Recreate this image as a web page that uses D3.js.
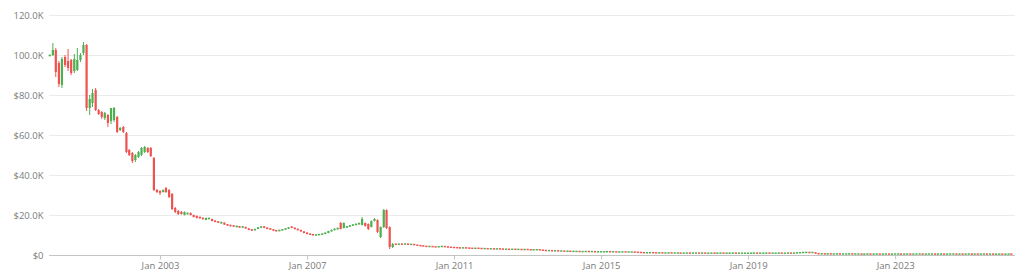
<!DOCTYPE html>
<html>
<head>
<meta charset="utf-8">
<script src="https://cdn.jsdelivr.net/npm/d3@7"></script>
<style>
  html, body { margin: 0; padding: 0; background: #ffffff; }
  svg { display: block; }
  text { font-family: "Open Sans", "Noto Sans", sans-serif; }
</style>
</head>
<body>
<svg id="chart" width="1024" height="279"></svg>
<script>
// ---- DATA (values in thousands of dollars), monthly candles starting Jan 2000 ----
const startYear = 2000;

// [open, high, low, close]  Jan 2000 – Dec 2002
const ohlc2000_2002 = [
  [99.6,100.2,99.4,99.9],[100,106,99.5,102.5],[102.5,103.5,89,91.5],[96,97,84,85.5],
  [85,99,83.5,98],[99,100,94,95],[97,103,92,93.5],[97.5,98,90,91],
  [92,100.5,91,98],[92.5,103.5,92,97.5],[97.5,101,96.5,100],[101,106.5,100,105],
  [105,105.5,72,73.5],[73.5,80,70,78],[76,83,74,81],[82.5,83.5,72,72.5],
  [72.5,73,70,70.5],[71.5,72,68,69],[68.5,71.5,67.5,71],[70,70.5,64,66],
  [67,73.5,65.5,73.5],[67.5,74,66.5,73.5],[69,69.5,61,61.5],[62.5,64,62,63.5],
  [64,64.5,61,61.5],[61,61.5,51,51.5],[52.5,53,49.5,50],[51,51.5,46,47],
  [47.5,50.5,46.5,50],[49,52,48.5,51.5],[50,54,49.5,53.5],[51.5,54.5,51,54],
  [53.5,54,51,51.5],[53.5,54,49,49.5],[48.5,49,32,32.5],[32.5,33,31,31.5]
];

// [open, high, low, close]  Jan 2003 – Dec 2006
const ohlc2003_2006 = [
  [32,32.5,30,31],[31.5,32.8,31.2,32.5],[33.5,34,31,31.5],[32.5,33,28.5,29],
  [30.5,31,22.5,23],[23.5,24,21,21.5],[22,22.5,20,20.5],[21.5,22,20.2,20.5],
  [20,21.8,19.8,21.5],[20.5,21.2,20.2,21],[21,21.3,19.8,20],[20,20.2,18.8,19],
  [19.5,19.8,18.3,18.5],[19,19.2,18.2,18.5],[18.5,18.8,17.8,18],[17.5,18.7,17.4,18.5],
  [18,18.7,17.9,18.5],[18,18.2,16.8,17],[17.2,17.4,16.5,16.6],[16.8,17,16,16.2],
  [15.8,16.7,15.7,16.5],[16.2,16.3,15,15.2],[15.3,15.5,14.6,14.8],[15,15.1,14.3,14.5],
  [14.8,15,14.1,14.3],[14,14.7,13.9,14.5],[14.3,14.5,13.6,13.8],[13.8,14.4,13.7,14.2],
  [14,14.2,13.1,13.3],[13.2,13.4,12.4,12.6],[12.8,13,12.1,12.3],[12.4,13.1,12.3,13],
  [13,13.9,12.9,13.8],[13.6,14.4,13.5,14.3],[14.3,14.5,13.4,13.6],[13.6,13.8,12.9,13.1],
  [13.2,13.4,12.6,12.8],[12.8,13,12,12.2],[12.3,12.5,11.8,12],[12,12.6,11.9,12.5],
  [12.4,12.9,12.3,12.8],[12.8,13.3,12.7,13.2],[13.2,14,13.1,13.8],[14.2,14.4,13.4,13.6],
  [13.6,13.8,12.8,13],[13,13.2,12.3,12.5],[12.5,12.7,11.6,11.8],[11.8,12,10.8,11]
];

// [open, high, low, close]  Jan 2007 – May 2009
const ohlc2007_2009 = [
  [11.2,11.4,10.3,10.5],[10.6,10.8,10,10.2],[10.3,10.5,9.8,10],[9.9,10.3,9.8,10.2],
  [10,10.5,9.9,10.4],[10.3,10.7,10.2,10.6],[10.5,11.3,10.4,11.2],[11,12.1,10.9,12],
  [11.8,12.7,11.7,12.6],[12.4,13.3,12.3,13.2],[12.8,13.7,12.7,13.6],[16,16.5,12.8,13],
  [13.5,16.3,13.3,16],[13.8,14.4,13.6,14.3],[14.2,14.9,14,14.8],[14.7,15.3,14.5,15.2],
  [15,15.7,14.8,15.6],[15.3,16.2,15.2,16],[15,19,14.8,18],[16,16.3,14.2,14.5],
  [15.5,15.8,12.5,13],[14,17.3,13.8,17],[17,18.5,16.8,18],[17.5,17.8,11,11.5],
  [9,14.3,8.5,14],[14,23,13.5,22.5],[22.5,22.8,13,13.5],[14,14.3,3,4],[4,6,3.5,5.5]
];

// monthly closes Jun 2009 – Mar 2026 (each month opens at the previous close)
const closes2009_2026 = [
  5.3,5.5,5.4,5.6,5.2,5.4,5.0,
  4.8,4.6,4.4,4.2,4.3,4.1,4.0,4.2,4.3,4.1,3.9,3.8,
  3.7,3.6,3.5,3.6,3.5,3.4,3.3,3.4,3.3,3.2,3.2,3.1,
  3.1,3.0,3.1,3.0,2.9,2.9,2.8,2.9,2.8,2.8,2.7,2.8,
  2.7,2.6,2.6,2.7,2.5,2.3,2.2,2.2,2.1,2.1,2.0,2.0,
  1.9,1.9,1.8,1.8,1.8,1.7,1.7,1.8,1.7,1.7,1.6,1.6,
  1.6,1.6,1.7,1.6,1.6,1.5,1.5,1.6,1.5,1.5,1.5,1.4,
  1.3,1.2,1.1,1.1,1.2,1.1,1.0,1.1,1.0,1.0,1.1,1.0,
  1.0,1.0,0.9,1.0,1.0,0.9,1.0,1.0,0.9,1.0,0.9,0.9,
  1.0,0.9,0.9,1.0,0.9,0.9,0.9,1.0,0.9,0.9,0.9,0.9,
  0.9,0.9,1.0,0.9,0.9,0.9,1.0,0.9,0.9,0.9,1.0,0.9,
  0.9,1.0,0.9,1.0,1.1,1.2,1.3,1.3,1.2,1.3,0.7,0.6,
  0.6,0.5,0.6,0.5,0.5,0.6,0.5,0.5,0.5,0.6,0.5,0.5,
  0.5,0.4,0.5,0.5,0.4,0.5,0.5,0.4,0.5,0.5,0.4,0.5,
  0.5,0.5,0.4,0.5,0.5,0.4,0.5,0.5,0.5,0.4,0.5,0.5,
  0.5,0.4,0.5,0.5,0.4,0.5,0.5,0.5,0.4,0.5,0.4,0.5,
  0.5,0.4,0.5,0.4,0.5,0.5,0.4,0.5,0.4,0.4,0.5,0.4,
  0.4,0.5,0.4
];

const yTickValues = [0, 20, 40, 60, 80, 100, 120];
const yTickLabels = ["$0", "$20.0K", "$40.0K", "$60.0K", "$80.0K", "100.0K", "120.0K"];
const xTickYears  = [2003, 2007, 2011, 2015, 2019, 2023];
const xTickLabels = ["Jan 2003", "Jan 2007", "Jan 2011", "Jan 2015", "Jan 2019", "Jan 2023"];

// ---- build candle table ----
const candles = [];
const monthDate = i => d3.timeMonth.offset(new Date(startYear, 0, 1), i);
[...ohlc2000_2002, ...ohlc2003_2006, ...ohlc2007_2009].forEach((r) => {
  candles.push({ date: monthDate(candles.length), o: r[0], h: r[1], l: r[2], c: r[3] });
});
closes2009_2026.forEach((c) => {
  const o = candles[candles.length - 1].c;
  candles.push({ date: monthDate(candles.length), o: o, h: Math.max(o, c), l: Math.min(o, c), c: c });
});

// ---- chart ----
const svg = d3.select("#chart");
const x = d3.scaleTime()
  .domain([new Date(2000, 0, 1), new Date(2026, 3, 1)])
  .range([49.75, 1014.5]);
const y = d3.scaleLinear().domain([0, 120]).range([255, 15]);

// grid
svg.append("g").selectAll("line").data(yTickValues.slice(1)).join("line")
  .attr("x1", 49).attr("x2", 1015)
  .attr("y1", d => Math.round(y(d)) + 0.5).attr("y2", d => Math.round(y(d)) + 0.5)
  .attr("stroke", "#ebebeb").attr("stroke-width", 1);

// y axis labels
const yAxis = d3.axisLeft(y).tickValues(yTickValues)
  .tickFormat((d, i) => yTickLabels[i]).tickSize(0).tickPadding(0);
const gy = svg.append("g").attr("transform", "translate(43.5,0)").call(yAxis);
gy.select(".domain").remove();
gy.selectAll("text").attr("fill", "#7b7b7b").style("font-size", "9.5px")
  .style("font-family", '"Open Sans", sans-serif');

// x axis
const xAxis = d3.axisBottom(x)
  .tickValues(xTickYears.map(yr => new Date(yr, 0, 1)))
  .tickFormat((d, i) => xTickLabels[i]).tickSize(4).tickSizeOuter(0).tickPadding(3);
const gx = svg.append("g").attr("transform", "translate(0,255.5)").call(xAxis);
gx.select(".domain").attr("d", "M49,0H1015").attr("stroke", "#c4c4c4");
gx.selectAll(".tick line").attr("stroke", "#c4c4c4");
gx.selectAll("text").attr("fill", "#7b7b7b").style("font-size", "9.5px")
  .style("font-family", '"Open Sans", sans-serif');

// candles
const up = "#4caf50", down = "#ef5350";
const bw = 2.2;
const g = svg.append("g");
const cg = g.selectAll("g").data(candles).join("g");
cg.append("line")
  .attr("x1", d => x(d.date)).attr("x2", d => x(d.date))
  .attr("y1", d => y(d.h)).attr("y2", d => y(d.l))
  .attr("stroke", d => d.c >= d.o ? up : down).attr("stroke-width", 1);
cg.append("rect")
  .attr("x", d => x(d.date) - bw / 2)
  .attr("width", bw)
  .attr("y", d => {
    const top = y(Math.max(d.o, d.c)), bot = y(Math.min(d.o, d.c));
    return bot - top < 1.5 ? (top + bot) / 2 - 0.75 : top;
  })
  .attr("height", d => Math.max(1.5, y(Math.min(d.o, d.c)) - y(Math.max(d.o, d.c))))
  .attr("fill", d => d.c >= d.o ? up : down);
</script>
</body>
</html>
